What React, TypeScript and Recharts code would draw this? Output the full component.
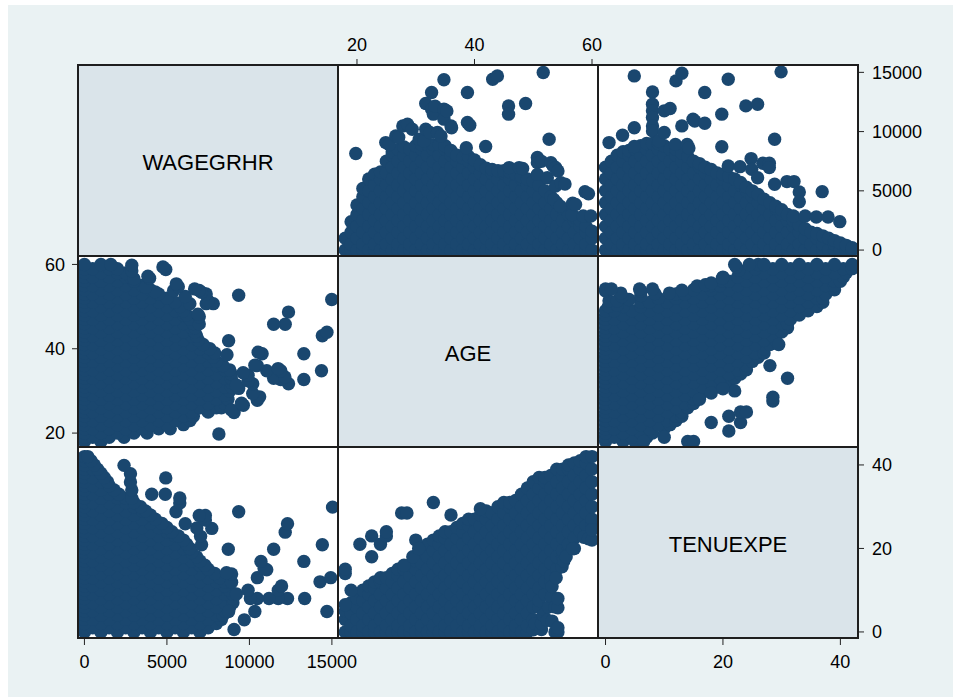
import { Scatter, ScatterChart, XAxis, YAxis } from 'recharts'

const MARKER = '#1a476f'
const FONT = '"Liberation Sans", Arial, Helvetica, sans-serif'
const OUTER_BG = '#eaf2f3'
const DIAG_BG = '#dae4ea'

// panel grid in px
const COLS = [78, 338, 598]
const ROWS = [65, 256, 447]
const PW = 260
const PH = 191
const AX_H = 40
const AX_W = 70

const VARS = ['WAGEGRHR', 'AGE', 'TENUEXPE']

const WAGE_TICKS = [0, 5000, 10000, 15000]
const AGE_TICKS = [20, 40, 60]
const TENURE_TICKS = [0, 20, 40]

const WAGE_X: [number, number] = [-390, 15370]
const WAGE_Y: [number, number] = [-500, 15620]
const AGE_X: [number, number] = [16.77, 61.02]
const AGE_Y: [number, number] = [16.7, 62]
const TEN_X: [number, number] = [-1.28, 43]
const TEN_Y: [number, number] = [-1.45, 44.3]

// age -> wages (dense cloud)
const AGE_WAGE_COLS: [number, number[]][] = [
  [18, [0, 1000]],
  [19, [0, 500, 1500, 2400]],
  [20, [0, 1000, 2000, 3000, 3800]],
  [21, [0, 500, 1500, 2500, 3500, 4500, 5200]],
  [22, [0, 1000, 2000, 3000, 4000, 5000, 6000]],
  [23, [0, 500, 1500, 2500, 3500, 4500, 5500, 6400]],
  [24, [0, 1000, 2000, 3000, 4000, 5000, 6000, 6600]],
  [25, [0, 500, 1500, 2500, 3500, 4500, 5500, 6500, 7500]],
  [26, [0, 1000, 2000, 3000, 4000, 5000, 6000, 7000, 8000, 8300]],
  [27, [0, 500, 1500, 2500, 3500, 4500, 5500, 6500, 7500, 8500]],
  [28, [0, 1000, 2000, 3000, 4000, 5000, 6000, 7000, 8000, 8700]],
  [29, [0, 500, 1500, 2500, 3500, 4500, 5500, 6500, 7500, 8500]],
  [30, [0, 1000, 2000, 3000, 4000, 5000, 6000, 7000, 8000, 8800]],
  [31, [0, 500, 1500, 2500, 3500, 4500, 5500, 6500, 7500, 8500, 8900]],
  [32, [0, 1000, 2000, 3000, 4000, 5000, 6000, 7000, 8000, 8900]],
  [33, [0, 500, 1500, 2500, 3500, 4500, 5500, 6500, 7500, 8500, 8900]],
  [34, [0, 1000, 2000, 3000, 4000, 5000, 6000, 7000, 8000, 8900]],
  [35, [0, 500, 1500, 2500, 3500, 4500, 5500, 6500, 7500, 8500, 8800]],
  [36, [0, 1000, 2000, 3000, 4000, 5000, 6000, 7000, 8000, 8400]],
  [37, [0, 500, 1500, 2500, 3500, 4500, 5500, 6500, 7500, 8000]],
  [38, [0, 1000, 2000, 3000, 4000, 5000, 6000, 7000, 7800]],
  [39, [0, 500, 1500, 2500, 3500, 4500, 5500, 6500, 7500, 7900]],
  [40, [0, 1000, 2000, 3000, 4000, 5000, 6000, 7000, 7600]],
  [41, [0, 500, 1500, 2500, 3500, 4500, 5500, 6500, 7200]],
  [42, [0, 1000, 2000, 3000, 4000, 5000, 6000, 6900]],
  [43, [0, 500, 1500, 2500, 3500, 4500, 5500, 6500, 6800]],
  [44, [0, 1000, 2000, 3000, 4000, 5000, 6000, 6700]],
  [45, [0, 500, 1500, 2500, 3500, 4500, 5500, 6500, 6700]],
  [46, [0, 1000, 2000, 3000, 4000, 5000, 6000, 6600]],
  [47, [0, 500, 1500, 2500, 3500, 4500, 5500, 6400]],
  [48, [0, 1000, 2000, 3000, 4000, 5000, 6000, 6200]],
  [49, [0, 500, 1500, 2500, 3500, 4500, 5500, 6000]],
  [50, [0, 1000, 2000, 3000, 4000, 5000, 5800]],
  [51, [0, 500, 1500, 2500, 3500, 4500, 5500]],
  [52, [0, 1000, 2000, 3000, 4000, 5000]],
  [53, [0, 500, 1500, 2500, 3500, 4500]],
  [54, [0, 1000, 2000, 3000, 4000]],
  [55, [0, 500, 1500, 2500, 3500]],
  [56, [0, 1000, 2000, 3000]],
  [57, [0, 500, 1500, 2500, 2800]],
  [58, [0, 1000, 2000, 2500]],
  [59, [0, 500, 1500, 2000]],
  [60, [0, 1000, 1600]],
]

// age, wage - scattered points above the cloud
const AGE_WAGE_OUT: [number, number][] = [
  [19.8, 8150], [24.9, 9070], [25.5, 8910], [26.6, 9630], [27.1, 9520], [27.8, 10480],
  [28.6, 10620], [29.4, 10200], [30.6, 9350], [31.4, 9210], [31.7, 10200], [31.7, 12370],
  [32.4, 9920], [32.7, 11900], [33, 11470], [32.7, 13300], [33.3, 12150], [33.7, 9920],
  [34.3, 9620], [34.8, 14370], [34.8, 11900], [34.8, 11050], [35.3, 11740], [36, 10480],
  [36.1, 10330], [38.6, 8640], [38.8, 13300], [38.8, 10770], [39.2, 10530], [41.9, 8740],
  [43.1, 14420], [43.9, 14700], [45.8, 12170], [45.8, 11470], [45.9, 6960], [47.6, 6960],
  [48.2, 6880], [48.7, 12370], [50.7, 7810], [50.7, 7380], [50.7, 6390], [51.4, 7490],
  [51.7, 14990], [52.4, 6110], [52.7, 9350], [53, 7380], [53.4, 7090], [53.5, 4280],
  [53.8, 6960], [53.8, 5410], [54.2, 6680], [54.6, 3710], [54.7, 5690], [55.4, 5570],
  [56.6, 3000], [56.7, 3950], [57.2, 3850], [58.5, 2870], [58.8, 4930], [59.4, 4760],
  [59.8, 2870],
]

// tenure -> wages (dense cloud)
const TEN_WAGE_COLS: [number, number[]][] = [
  [0, [0, 1000, 2000, 3000, 4000, 5000, 6000, 7000]],
  [1, [0, 500, 1500, 2500, 3500, 4500, 5500, 6500, 7500]],
  [2, [0, 1000, 2000, 3000, 4000, 5000, 6000, 7000, 8000]],
  [3, [0, 500, 1500, 2500, 3500, 4500, 5500, 6500, 7500, 8300]],
  [4, [0, 1000, 2000, 3000, 4000, 5000, 6000, 7000, 8000, 8400]],
  [5, [0, 500, 1500, 2500, 3500, 4500, 5500, 6500, 7500, 8500]],
  [6, [0, 1000, 2000, 3000, 4000, 5000, 6000, 7000, 8000, 8800]],
  [7, [0, 500, 1500, 2500, 3500, 4500, 5500, 6500, 7500, 8500, 9000]],
  [8, [0, 1000, 2000, 3000, 4000, 5000, 6000, 7000, 8000, 9000]],
  [9, [0, 500, 1500, 2500, 3500, 4500, 5500, 6500, 7500, 8500, 9000]],
  [10, [0, 1000, 2000, 3000, 4000, 5000, 6000, 7000, 8000, 8800]],
  [11, [0, 500, 1500, 2500, 3500, 4500, 5500, 6500, 7500, 8500]],
  [12, [0, 1000, 2000, 3000, 4000, 5000, 6000, 7000, 8000, 8500]],
  [13, [0, 500, 1500, 2500, 3500, 4500, 5500, 6500, 7500, 8200]],
  [14, [0, 1000, 2000, 3000, 4000, 5000, 6000, 7000, 7900]],
  [15, [0, 500, 1500, 2500, 3500, 4500, 5500, 6500, 7500]],
  [16, [0, 1000, 2000, 3000, 4000, 5000, 6000, 7000, 7300]],
  [17, [0, 500, 1500, 2500, 3500, 4500, 5500, 6500, 7000]],
  [18, [0, 1000, 2000, 3000, 4000, 5000, 6000, 6800]],
  [19, [0, 500, 1500, 2500, 3500, 4500, 5500, 6500]],
  [20, [0, 1000, 2000, 3000, 4000, 5000, 6000, 6400]],
  [21, [0, 500, 1500, 2500, 3500, 4500, 5500, 6200]],
  [22, [0, 1000, 2000, 3000, 4000, 5000, 6000]],
  [23, [0, 500, 1500, 2500, 3500, 4500, 5500, 5700]],
  [24, [0, 1000, 2000, 3000, 4000, 5000, 5300]],
  [25, [0, 500, 1500, 2500, 3500, 4500, 5000]],
  [26, [0, 1000, 2000, 3000, 4000, 4700]],
  [27, [0, 500, 1500, 2500, 3500, 4300]],
  [28, [0, 1000, 2000, 3000, 4000]],
  [29, [0, 500, 1500, 2500, 3500, 3700]],
  [30, [0, 1000, 2000, 3000, 3400]],
  [31, [0, 500, 1500, 2500, 3000]],
  [32, [0, 1000, 2000, 2500]],
  [33, [0, 500, 1500, 2100]],
  [34, [0, 1000, 1800]],
  [35, [0, 500, 1500]],
  [36, [0, 1000, 1400]],
  [37, [0, 500, 1200]],
  [38, [0, 1000]],
  [39, [0, 500, 800]],
  [40, [0, 600]],
  [41, [0, 400]],
  [42, [0, 200]],
]

// tenure, wage - scattered points
const TEN_WAGE_OUT: [number, number][] = [
  [0.6, 9070], [2.9, 9690], [4.9, 14700], [4.9, 10330], [4.9, 8740], [8, 13350],
  [8, 12310], [8, 11750], [8, 11190], [8, 10480], [8, 10060], [9.1, 9210],
  [10, 11750], [11, 11950], [10, 9920], [11.9, 8920], [12, 14280], [13, 14930],
  [13, 10480], [13.9, 8920], [14.2, 8610], [14.9, 11050], [15.2, 10890], [16.9, 13300],
  [16.9, 10700], [19.8, 11470], [19.8, 8720], [20.9, 14420], [20.9, 7100], [22.9, 7040],
  [23.9, 12170], [24.8, 7720], [24.9, 6810], [25.9, 12310], [25.9, 6110], [26.8, 7330],
  [27.9, 7330], [27.9, 6960], [28.8, 9350], [28.8, 5550], [29.9, 15040], [30.9, 5780],
  [32.1, 5780], [33, 4900], [33, 4080], [32, 2870], [34, 2870], [35.9, 2790],
  [36.9, 4930], [37.9, 2790], [39.9, 2400],
]

// age -> tenures (dense band)
const AGE_TEN_COLS: [number, number[]][] = [
  [18, [0, 3, 5]],
  [19, [0, 1.5, 4.5, 7]],
  [20, [0, 3, 6, 8]],
  [21, [0, 1.5, 4.5, 7.5, 10]],
  [22, [0, 3, 6, 9, 11]],
  [23, [0, 1.5, 4.5, 7.5, 10.5, 12]],
  [24, [0, 3, 6, 9, 12, 13]],
  [25, [0, 1.5, 4.5, 7.5, 10.5, 13]],
  [26, [0, 3, 6, 9, 12, 14]],
  [27, [0, 1.5, 4.5, 7.5, 10.5, 13.5, 15]],
  [28, [0, 3, 6, 9, 12, 15]],
  [29, [0, 1.5, 4.5, 7.5, 10.5, 13.5, 16]],
  [30, [0, 3, 6, 9, 12, 15, 17]],
  [31, [0, 1.5, 4.5, 7.5, 10.5, 13.5, 16.5, 19]],
  [32, [0, 3, 6, 9, 12, 15, 18, 21]],
  [33, [0, 1.5, 4.5, 7.5, 10.5, 13.5, 16.5, 19.5, 22]],
  [34, [0, 3, 6, 9, 12, 15, 18, 21, 23]],
  [35, [0, 1.5, 4.5, 7.5, 10.5, 13.5, 16.5, 19.5, 22.5, 24]],
  [36, [0, 3, 6, 9, 12, 15, 18, 21, 24]],
  [37, [0, 1.5, 4.5, 7.5, 10.5, 13.5, 16.5, 19.5, 22.5, 25]],
  [38, [0, 3, 6, 9, 12, 15, 18, 21, 24, 26]],
  [39, [0, 1.5, 4.5, 7.5, 10.5, 13.5, 16.5, 19.5, 22.5, 25.5, 27]],
  [40, [0, 3, 6, 9, 12, 15, 18, 21, 24, 27]],
  [41, [0, 1.5, 4.5, 7.5, 10.5, 13.5, 16.5, 19.5, 22.5, 25.5, 28]],
  [42, [0, 3, 6, 9, 12, 15, 18, 21, 24, 27, 29]],
  [43, [0, 1.5, 4.5, 7.5, 10.5, 13.5, 16.5, 19.5, 22.5, 25.5, 28.5]],
  [44, [0, 3, 6, 9, 12, 15, 18, 21, 24, 27, 30]],
  [45, [0, 1.5, 4.5, 7.5, 10.5, 13.5, 16.5, 19.5, 22.5, 25.5, 28.5, 31]],
  [46, [0, 3, 6, 9, 12, 15, 18, 21, 24, 27, 30, 31]],
  [47, [0, 1.5, 4.5, 7.5, 10.5, 13.5, 16.5, 19.5, 22.5, 25.5, 28.5, 31.5]],
  [48, [0, 3, 6, 9, 12, 15, 18, 21, 24, 27, 30, 33]],
  [49, [0, 1.5, 4.5, 7.5, 10.5, 13.5, 16.5, 19.5, 22.5, 25.5, 28.5, 31.5, 34.5]],
  [50, [3, 6, 9, 12, 15, 18, 21, 24, 27, 30, 33, 36]],
  [51, [6, 7.5, 10.5, 13.5, 16.5, 19.5, 22.5, 25.5, 28.5, 31.5, 34.5, 37]],
  [52, [9, 12, 15, 18, 21, 24, 27, 30, 33, 36, 37]],
  [53, [12, 13.5, 16.5, 19.5, 22.5, 25.5, 28.5, 31.5, 34.5, 37.5]],
  [54, [15, 18, 21, 24, 27, 30, 33, 36, 39]],
  [55, [18, 19.5, 22.5, 25.5, 28.5, 31.5, 34.5, 37.5, 39]],
  [56, [20, 21, 24, 27, 30, 33, 36, 39, 40]],
  [57, [22.5, 25.5, 28.5, 31.5, 34.5, 37.5, 40.5]],
  [58, [24, 27, 30, 33, 36, 39, 41]],
  [59, [25.5, 28.5, 31.5, 34.5, 37.5, 40.5, 42]],
  [60, [26, 27, 30, 33, 36, 39, 42]],
]

// age, tenure - scattered points off the band
const AGE_TEN_OUT: [number, number][] = [
  [18, 6.5], [18, 14], [18, 15], [19, 10], [20.5, 21], [22.5, 18], [22.5, 23], [24, 21],
  [25, 23], [25, 24], [28, 16], [27.6, 28.5], [28.5, 28.5], [29.5, 18], [30, 22], [30.5, 20],
  [33, 31], [36, 28], [41, 29.5],
  [50, 0.5], [50.3, 2], [51.4, 0.6], [51.4, 2], [51.7, 4], [52.4, 2.8], [52.6, 6],
  [53.2, 2.6], [53.1, 8.4], [53.2, 10.9], [53.7, 0], [53.7, 6], [54.2, 0], [54.2, 1],
  [54.2, 5.8], [54.2, 8], [53.9, 13], [54.9, 15.6], [55.2, 17], [55.6, 18], [57, 20],
  [56.7, 19.9], [58.6, 22.7], [59.4, 22.3], [60, 22], [60, 24.5],
]

type Pair = [number, number]
type Pt = { x: number; y: number }
type Side = 'top' | 'bottom' | 'left' | 'right'

function pairs(cols: [number, number[]][], extra: Pair[]): Pair[] {
  const out: Pair[] = []
  cols.forEach(([a, list]) => list.forEach((b) => out.push([a, b])))
  return out.concat(extra)
}

const asXY = (rows: Pair[], flip = false): Pt[] =>
  rows.map(([a, b]) => (flip ? { x: b, y: a } : { x: a, y: b }))

const AGE_WAGE = pairs(AGE_WAGE_COLS, AGE_WAGE_OUT)
const TEN_WAGE = pairs(TEN_WAGE_COLS, TEN_WAGE_OUT)
const AGE_TEN = pairs(AGE_TEN_COLS, AGE_TEN_OUT)

// tick length, gap to label
const TICK_GAP: Record<Side, [number, number]> = {
  top: [6, 8],
  bottom: [7, 10],
  left: [6, 7],
  right: [6, 8],
}
const tickText = { fontSize: 18, fill: '#000', fontFamily: FONT }

const dot = (p: any) => <circle cx={p.cx} cy={p.cy} r={6.7} fill={MARKER} />

type PanelProps = {
  row: number
  col: number
  data: Pt[]
  xDomain: [number, number]
  yDomain: [number, number]
  xSide?: 'top' | 'bottom'
  xTicks?: number[]
  ySide?: 'left' | 'right'
  yTicks?: number[]
}

function Panel({ row, col, data, xDomain, yDomain, xSide, xTicks, ySide, yTicks }: PanelProps) {
  const padL = ySide === 'left' ? AX_W : 0
  const padR = ySide === 'right' ? AX_W : 0
  const padT = xSide === 'top' ? AX_H : 0
  const padB = xSide === 'bottom' ? AX_H : 0
  const xGap = TICK_GAP[xSide ?? 'bottom']
  const yGap = TICK_GAP[ySide ?? 'left']

  return (
    <div style={{ position: 'absolute', left: COLS[col] - padL, top: ROWS[row] - padT }}>
      <ScatterChart
        width={PW + padL + padR}
        height={PH + padT + padB}
        margin={{ top: 0, right: 0, bottom: 0, left: 0 }}
        style={{ overflow: 'visible' }}
      >
        <XAxis
          type="number"
          dataKey="x"
          domain={xDomain}
          allowDataOverflow
          hide={!xSide}
          orientation={xSide ?? 'bottom'}
          height={AX_H}
          ticks={xTicks}
          interval={0}
          axisLine={false}
          tickLine={{ stroke: '#222' }}
          tickSize={xGap[0]}
          tickMargin={xGap[1]}
          tick={tickText}
        />
        <YAxis
          type="number"
          dataKey="y"
          domain={yDomain}
          allowDataOverflow
          hide={!ySide}
          orientation={ySide ?? 'left'}
          width={AX_W}
          ticks={yTicks}
          interval={0}
          axisLine={false}
          tickLine={{ stroke: '#222' }}
          tickSize={yGap[0]}
          tickMargin={yGap[1]}
          tick={tickText}
        />
        <Scatter data={data} isAnimationActive={false} shape={dot} />
      </ScatterChart>
    </div>
  )
}

export default function App() {
  const right = COLS[2] + PW
  const bottom = ROWS[2] + PH

  return (
    <div
      style={{
        position: 'absolute',
        left: 0,
        top: 0,
        width: 953,
        height: 697,
        background: '#fff',
        overflow: 'hidden',
      }}
    >
      <style>{'.recharts-surface, .recharts-wrapper { overflow: visible !important; }'}</style>
      <div style={{ position: 'absolute', left: 8, top: 5, right: 0, bottom: 0, background: OUTER_BG }} />
      <div
        style={{
          position: 'absolute',
          left: COLS[0],
          top: ROWS[0],
          width: right - COLS[0],
          height: bottom - ROWS[0],
          background: '#fff',
        }}
      />

      {VARS.map((name, i) => (
        <div
          key={name}
          style={{
            position: 'absolute',
            left: COLS[i],
            top: ROWS[i],
            width: PW,
            height: PH,
            background: DIAG_BG,
            display: 'flex',
            alignItems: 'center',
            justifyContent: 'center',
            boxSizing: 'border-box',
            paddingTop: 4,
            fontFamily: FONT,
            fontSize: 22,
            color: '#000',
          }}
        >
          {name}
        </div>
      ))}

      <Panel row={0} col={1} data={asXY(AGE_WAGE)} xDomain={AGE_X} yDomain={WAGE_Y} xSide="top" xTicks={AGE_TICKS} />
      <Panel row={0} col={2} data={asXY(TEN_WAGE)} xDomain={TEN_X} yDomain={WAGE_Y} ySide="right" yTicks={WAGE_TICKS} />
      <Panel row={1} col={0} data={asXY(AGE_WAGE, true)} xDomain={WAGE_X} yDomain={AGE_Y} ySide="left" yTicks={AGE_TICKS} />
      <Panel row={1} col={2} data={asXY(AGE_TEN, true)} xDomain={TEN_X} yDomain={AGE_Y} />
      <Panel row={2} col={0} data={asXY(TEN_WAGE, true)} xDomain={WAGE_X} yDomain={TEN_Y} xSide="bottom" xTicks={WAGE_TICKS} />
      <Panel row={2} col={1} data={asXY(AGE_TEN)} xDomain={AGE_X} yDomain={TEN_Y} />
      <Panel
        row={2}
        col={2}
        data={[]}
        xDomain={TEN_X}
        yDomain={TEN_Y}
        xSide="bottom"
        xTicks={TENURE_TICKS}
        ySide="right"
        yTicks={TENURE_TICKS}
      />

      <svg width={953} height={697} style={{ position: 'absolute', left: 0, top: 0, pointerEvents: 'none' }}>
        <g stroke="#1e1e1e" strokeWidth={2} fill="none">
          <rect x={COLS[0]} y={ROWS[0]} width={right - COLS[0]} height={bottom - ROWS[0]} />
          <line x1={COLS[1]} y1={ROWS[0]} x2={COLS[1]} y2={bottom} />
          <line x1={COLS[2]} y1={ROWS[0]} x2={COLS[2]} y2={bottom} />
          <line x1={COLS[0]} y1={ROWS[1]} x2={right} y2={ROWS[1]} />
          <line x1={COLS[0]} y1={ROWS[2]} x2={right} y2={ROWS[2]} />
        </g>
      </svg>
    </div>
  )
}
